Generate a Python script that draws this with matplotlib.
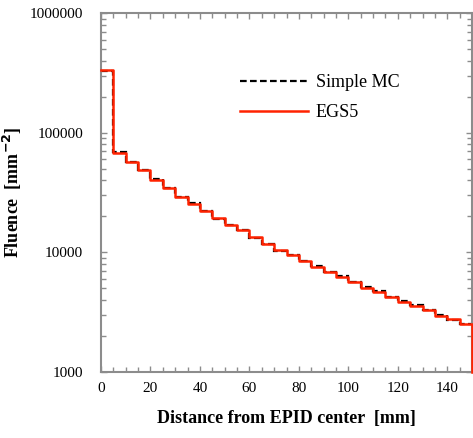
import numpy as np
import matplotlib.pyplot as plt
from matplotlib.ticker import MultipleLocator, LogLocator, NullFormatter

plt.rcParams['font.family'] = ['Liberation Serif', 'DejaVu Serif']

# bin edges [mm] and fluence per bin [mm^-2]
edges = [0, 5, 10, 15, 20, 25, 30, 35, 40, 45, 50, 55, 60, 65, 70, 75,
         80, 85, 90, 95, 100, 105, 110, 115, 120, 125, 130, 135, 140, 145, 150]
egs5 = [335000, 68000, 57500, 48500, 40500, 34300, 29300, 25500, 22000, 19300,
        17000, 15300, 13400, 11700, 10400, 9450, 8450, 7550, 6880, 6250,
        5620, 5050, 4680, 4250, 3870, 3550, 3290, 2950, 2750, 2500]
simple_mc = [330000, 68500, 57000, 48800, 40800, 34600, 29100, 25700, 22200, 19100,
             17100, 15400, 13300, 11800, 10300, 9500, 8550, 7650, 6850, 6300,
             5650, 5100, 4720, 4200, 3900, 3600, 3270, 2980, 2730, 2520]

fig = plt.figure(figsize=(4.73, 4.38), dpi=100)
ax = fig.add_axes([0.2135, 0.1507, 0.7845, 0.8193])

ax.stairs(simple_mc, edges, baseline=None, color='black', lw=1.6,
          ls=(0, (3, 1.5)), label='Simple MC')
# red curve drops to the axis floor at the last edge
ax.step(edges, egs5 + [1000], where='post', color='#ff2200', lw=1.8,
        label='EGS5', clip_on=False, zorder=5)

ax.set_yscale('log')
ax.set_xlim(0, 150)
ax.set_ylim(1000, 1000000)
ax.set_xticks([0, 20, 40, 60, 80, 100, 120, 140])
ax.xaxis.set_minor_locator(MultipleLocator(5))
ax.yaxis.set_minor_locator(LogLocator(base=10, subs=np.arange(2, 10)))
ax.yaxis.set_minor_formatter(NullFormatter())
ax.set_yticks([1000, 10000, 100000, 1000000])
ax.set_yticklabels(['1000', '10000', '100000', '1000000'])

for s in ax.spines.values():
    s.set_color('#8c8c8c')
    s.set_linewidth(1.5)
ax.tick_params(which='both', direction='in', top=True, right=True,
               color='#8c8c8c', width=1.0, labelsize=11)
ax.tick_params(axis='y', pad=13)
ax.tick_params(axis='x', pad=7)
ax.tick_params(which='major', length=4)
ax.tick_params(which='minor', length=3.5)

ax.set_xlabel('Distance from EPID center  [mm]', fontsize=13, fontweight='bold', labelpad=11)
ax.set_ylabel('Fluence  [mm$^{\\mathbf{-2}}$]', fontsize=13, fontweight='bold', labelpad=4)

ax.legend(loc='upper left', bbox_to_anchor=(0.33, 0.875), frameon=False,
          fontsize=13, handlelength=3.8, handletextpad=0.4, labelspacing=0.72)

fig.savefig('out.png', dpi=100)
